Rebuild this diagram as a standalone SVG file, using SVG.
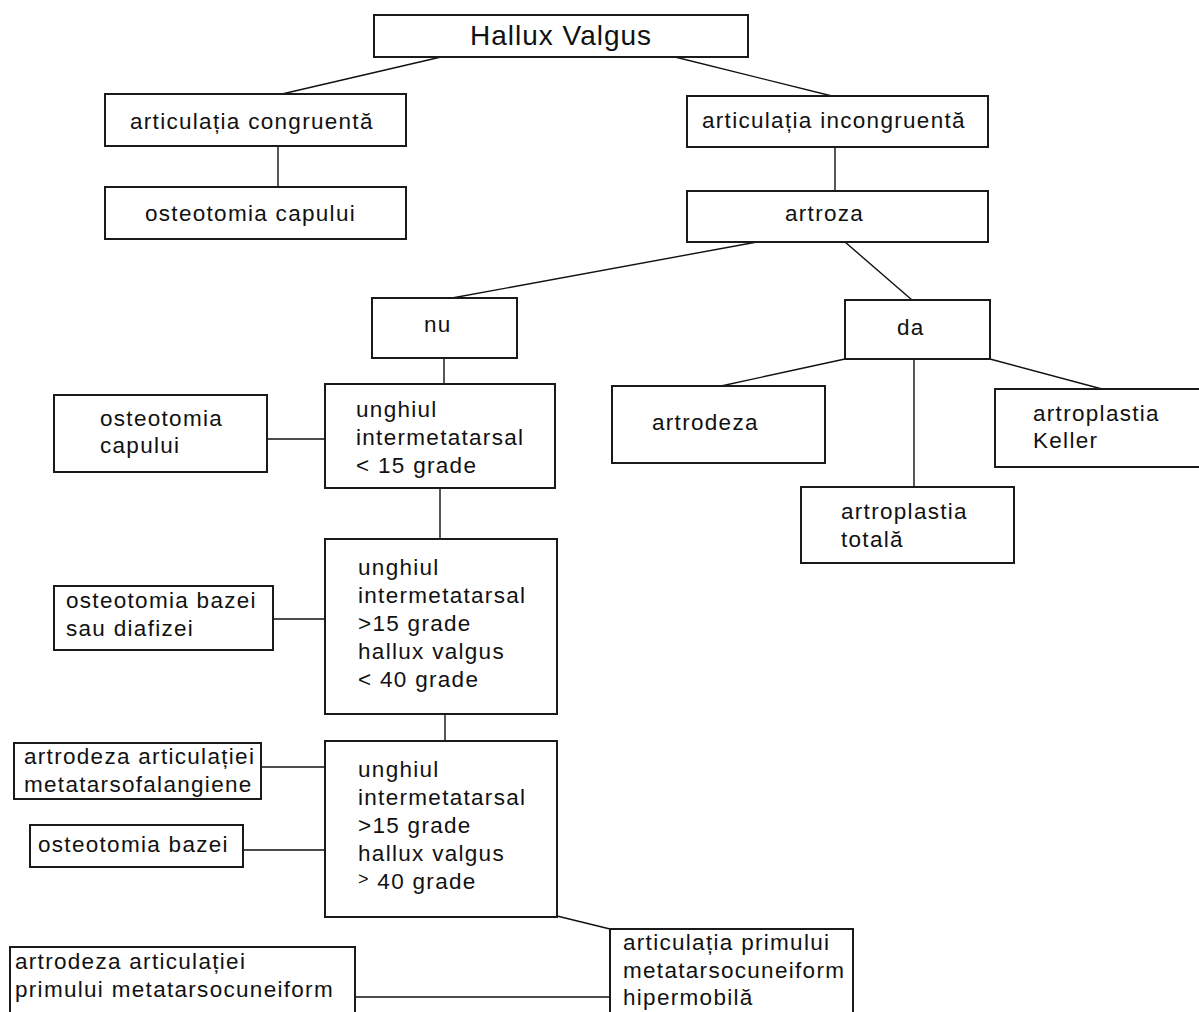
<svg xmlns="http://www.w3.org/2000/svg" width="1199" height="1012" viewBox="0 0 1199 1012">
<style>
.b{fill:#fff;stroke:#1a1a1a;stroke-width:2}
.c{stroke:#111;stroke-width:1.4;fill:none}
text{font-family:"Liberation Sans",Arial,sans-serif;font-size:22.5px;letter-spacing:1.3px;fill:#111}
.t{font-size:28px;letter-spacing:1px}
</style>
<rect width="1199" height="1012" fill="#fff"/>
<g id="connectors">
<line class="c" x1="441" y1="57" x2="282" y2="94"/>
<line class="c" x1="675" y1="57" x2="832" y2="96"/>
<line class="c" x1="278" y1="146" x2="278" y2="187"/>
<line class="c" x1="835" y1="147" x2="835" y2="191"/>
<line class="c" x1="757" y1="242" x2="452" y2="298"/>
<line class="c" x1="845" y1="242" x2="912" y2="300"/>
<line class="c" x1="845" y1="359" x2="721" y2="386"/>
<line class="c" x1="914" y1="359" x2="914" y2="487"/>
<line class="c" x1="990" y1="359" x2="1102" y2="389"/>
<line class="c" x1="444" y1="358" x2="444" y2="384"/>
<line class="c" x1="267" y1="439" x2="325" y2="439"/>
<line class="c" x1="440" y1="488" x2="440" y2="539"/>
<line class="c" x1="273" y1="619" x2="325" y2="619"/>
<line class="c" x1="445" y1="714" x2="445" y2="741"/>
<line class="c" x1="261" y1="767" x2="325" y2="767"/>
<line class="c" x1="243" y1="850" x2="325" y2="850"/>
<line class="c" x1="557" y1="916" x2="610" y2="929"/>
<line class="c" x1="355" y1="997" x2="610" y2="997"/>
</g>
<g id="n-hallux"><rect class="b" x="374" y="15" width="374" height="42"/><text class="t" x="470" y="45">Hallux Valgus</text></g>
<g id="n-congr"><rect class="b" x="105" y="94" width="301" height="52"/><text x="130" y="129">articulația congruentă</text></g>
<g id="n-osteo1"><rect class="b" x="105" y="187" width="301" height="52"/><text x="145" y="221">osteotomia capului</text></g>
<g id="n-incongr"><rect class="b" x="687" y="96" width="301" height="51"/><text x="702" y="128">articulația incongruentă</text></g>
<g id="n-artroza"><rect class="b" x="687" y="191" width="301" height="51"/><text x="785" y="221">artroza</text></g>
<g id="n-nu"><rect class="b" x="372" y="298" width="145" height="60"/><text x="424" y="332">nu</text></g>
<g id="n-da"><rect class="b" x="845" y="300" width="145" height="59"/><text x="897" y="335">da</text></g>
<g id="n-artrodeza"><rect class="b" x="612" y="386" width="213" height="77"/><text x="652" y="430">artrodeza</text></g>
<g id="n-keller"><rect class="b" x="995" y="389" width="220" height="78"/><text x="1033" y="421">artroplastia</text><text x="1033" y="448">Keller</text></g>
<g id="n-totala"><rect class="b" x="801" y="487" width="213" height="76"/><text x="841" y="519">artroplastia</text><text x="841" y="547">totală</text></g>
<g id="n-ung1"><rect class="b" x="325" y="384" width="230" height="104"/><text x="356" y="417">unghiul</text><text x="356" y="445">intermetatarsal</text><text x="356" y="473">&lt; 15 grade</text></g>
<g id="n-osteo2"><rect class="b" x="54" y="395" width="213" height="77"/><text x="100" y="426">osteotomia</text><text x="100" y="453">capului</text></g>
<g id="n-ung2"><rect class="b" x="325" y="539" width="232" height="175"/><text x="358" y="575">unghiul</text><text x="358" y="603">intermetatarsal</text><text x="358" y="631">&gt;15 grade</text><text x="358" y="659">hallux valgus</text><text x="358" y="687">&lt; 40 grade</text></g>
<g id="n-osteo3"><rect class="b" x="54" y="586" width="219" height="64"/><text x="66" y="608">osteotomia bazei</text><text x="66" y="636">sau diafizei</text></g>
<g id="n-ung3"><rect class="b" x="325" y="741" width="232" height="176"/><text x="358" y="777">unghiul</text><text x="358" y="805">intermetatarsal</text><text x="358" y="833">&gt;15 grade</text><text x="358" y="861">hallux valgus</text><text x="358" y="889"><tspan font-size="18" dy="-4">&gt;</tspan><tspan dy="4"> 40 grade</tspan></text></g>
<g id="n-artmtf"><rect class="b" x="14" y="743" width="247" height="56"/><text x="24" y="764">artrodeza articulației</text><text x="24" y="792">metatarsofalangiene</text></g>
<g id="n-osteo4"><rect class="b" x="30" y="825" width="213" height="42"/><text x="38" y="852">osteotomia bazei</text></g>
<g id="n-artmc"><rect class="b" x="10" y="947" width="345" height="80"/><text x="15" y="969">artrodeza articulației</text><text x="15" y="997">primului metatarsocuneiform</text></g>
<g id="n-hiper"><rect class="b" x="610" y="929" width="243" height="100"/><text x="623" y="950">articulația primului</text><text x="623" y="978">metatarsocuneiform</text><text x="623" y="1005">hipermobilă</text></g>
</svg>
